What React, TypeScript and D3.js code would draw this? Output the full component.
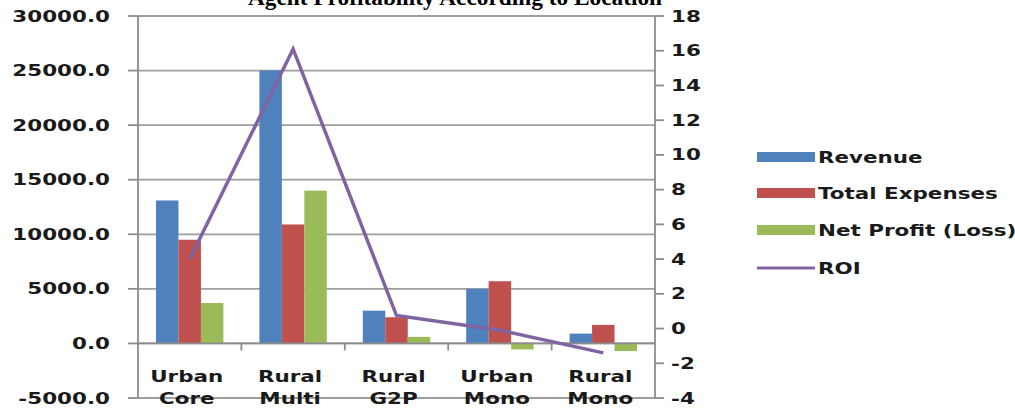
import React from "react";
import * as d3 from "d3";

const categories = [["Urban", "Core"], ["Rural", "Multi"], ["Rural", "G2P"], ["Urban", "Mono"], ["Rural", "Mono"]];
const seriesNames = ["Revenue", "Total Expenses", "Net Profit (Loss)"];
const revenue = [13100, 25000, 3000, 5000, 900];
const totalExpenses = [9500, 10900, 2400, 5700, 1700];
const netProfit = [3700, 14000, 600, -550, -700];
const roi = [4.0, 16.1, 0.75, -0.1, -1.4];
const leftTicks = [-5000, 0, 5000, 10000, 15000, 20000, 25000, 30000];
const rightTicks = [-4, -2, 0, 2, 4, 6, 8, 10, 12, 14, 16, 18];
const title = "Agent Profitability According to Location";

const W = 1015, H = 408;
const left = 138, right = 655, top = 16, bottom = 398;
const colors = ["#4F81BD", "#C0504D", "#9BBB59"];
const roiColor = "#8064A2";
const font = "'DejaVu Sans', Verdana, sans-serif";

function T({ x, y, anchor = "start", children, size = 15, sx = 1.43 }: any) {
  return (
    <text transform={`translate(${x},${y}) scale(${sx},1)`} textAnchor={anchor}
      fontFamily={font} fontWeight="bold" fontSize={size} fill="#1a1a1a">{children}</text>
  );
}

export default function App() {
  const keys = categories.map((c) => c.join(" "));
  const x = d3.scaleBand<string>().domain(keys).range([left, right]).paddingInner(0).paddingOuter(0);
  const bw = x.bandwidth();
  const x1 = d3.scaleBand<string>().domain(seriesNames).range([18, bw - 18]).padding(0);
  const yL = d3.scaleLinear().domain([-5000, 30000]).range([bottom, top]);
  const yR = d3.scaleLinear().domain([-4, 18]).range([bottom, top]);
  const values = [revenue, totalExpenses, netProfit];
  const line = d3.line<number>().x((_, i) => (x(keys[i]) as number) + bw / 2).y((d) => yR(d));
  const legendY = [157, 193, 230, 268];

  return (
    <svg width={W} height={H} style={{ position: "absolute", left: 0, top: 0, background: "#fff" }}>
      <rect width={W} height={H} fill="#fff" />
      <text x={455} y={5} textAnchor="middle" fontFamily="'Liberation Serif', 'Times New Roman', serif"
        fontWeight="bold" fontSize={24} textLength={414} lengthAdjust="spacingAndGlyphs" fill="#000">{title}</text>
      {/* gridlines */}
      {leftTicks.map((t) => (
        <line key={t} x1={left} x2={right} y1={yL(t)} y2={yL(t)} stroke="#9e9e9e" strokeWidth={1.8} />
      ))}
      {/* left axis */}
      <line x1={left} x2={left} y1={top} y2={bottom} stroke="#8c8c8c" strokeWidth={1.8} />
      {leftTicks.map((t) => (
        <g key={"l" + t}>
          <line x1={left - 10} x2={left} y1={yL(t)} y2={yL(t)} stroke="#8c8c8c" strokeWidth={1.8} />
          <T x={110} y={yL(t) + 5.5} anchor="end">{d3.format(".1f")(t).replace("−", "-")}</T>
        </g>
      ))}
      {/* right axis */}
      <line x1={right} x2={right} y1={top} y2={bottom} stroke="#8c8c8c" strokeWidth={1.8} />
      {rightTicks.map((t) => (
        <g key={"r" + t}>
          <line x1={right} x2={right + 9} y1={yR(t)} y2={yR(t)} stroke="#8c8c8c" strokeWidth={1.8} />
          <T x={671} y={yR(t) + 5.5}>{String(t).replace("−", "-")}</T>
        </g>
      ))}
      {/* bars */}
      {values.map((vals, si) =>
        vals.map((v, i) => {
          const bx = (x(keys[i]) as number) + (x1(seriesNames[si]) as number);
          return (
            <rect key={si + "-" + i} x={bx} width={x1.bandwidth()} y={Math.min(yL(v), yL(0))}
              height={Math.abs(yL(v) - yL(0))} fill={colors[si]} />
          );
        })
      )}
      {/* category axis at zero */}
      <line x1={left} x2={right} y1={yL(0)} y2={yL(0)} stroke="#8c8c8c" strokeWidth={1.8} />
      {keys.slice(1).map((k) => (
        <line key={"ct" + k} x1={x(k)} x2={x(k)} y1={yL(0)} y2={yL(0) + 7} stroke="#8c8c8c" strokeWidth={1.8} />
      ))}
      {categories.map((c, i) => (
        <g key={"cl" + i}>
          <T x={(x(keys[i]) as number) + bw / 2 - 3} y={382} anchor="middle" size={16.5} sx={1.3}>{c[0]}</T>
          <T x={(x(keys[i]) as number) + bw / 2 - 3} y={404} anchor="middle" size={16.5} sx={1.3}>{c[1]}</T>
        </g>
      ))}
      {/* ROI line */}
      <path d={line(roi) as string} fill="none" stroke={roiColor} strokeWidth={3.5} strokeLinejoin="miter" />
      {/* legend */}
      {seriesNames.map((s, i) => (
        <g key={"lg" + s}>
          <rect x={757} y={legendY[i] - 5} width={58} height={10} fill={colors[i]} />
          <T x={818} y={legendY[i] + 6} size={16.5} sx={1.3}>{s}</T>
        </g>
      ))}
      <line x1={757} x2={815} y1={legendY[3]} y2={legendY[3]} stroke={roiColor} strokeWidth={3} />
      <T x={818} y={legendY[3] + 6} size={16.5} sx={1.3}>ROI</T>
    </svg>
  );
}
